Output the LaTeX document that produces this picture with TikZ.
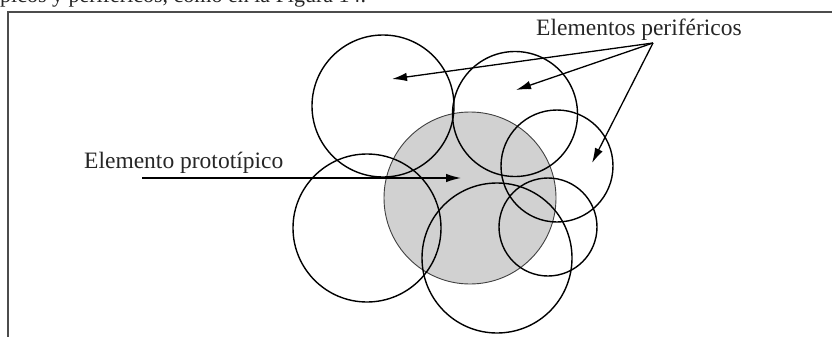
\documentclass[tikz,border=0pt]{standalone}
\usepackage{fontspec}
\setmainfont{Liberation Serif}
\usetikzlibrary{arrows.meta}
\begin{document}
\begin{tikzpicture}[x=1pt,y=-1pt,
  ring/.style={circle,draw=black,line width=1.4pt,inner sep=0pt,minimum size=#1},
  lbl/.style={font=\fontsize{23.5}{26}\selectfont,text=black!85,inner sep=0pt,anchor=base west},
  pointer/.style={line width=1.3pt,-{Latex[length=15pt,width=8.5pt]}},
  frame/.style={line width=1.4pt,draw=black!70}]
\useasboundingbox (0,0) rectangle (832,337);
\clip (0,0) rectangle (832,337);
% cut-off line of text above the frame
\node[lbl,font=\fontsize{22}{24}\selectfont] (toptext) at (0,3) {picos y periféricos, como en la Figura 14.};
% frame
\draw[frame] (832,12) -- (8,12) -- (8,337);
% prototype element
\node[circle,fill=black!18,draw=black!75,line width=0.9pt,inner sep=0pt,minimum size=172pt] (proto) at (470,198) {};
% peripheral elements
\node[ring=142pt] (c1) at (383,106) {};
\node[ring=125pt] (c2) at (515,114) {};
\node[ring=112pt] (c3) at (557,166) {};
\node[ring=148pt] (c5) at (367,228) {};
\node[ring=150pt] (c6) at (497,258) {};
\node[ring=98pt]  (c7) at (548,227) {};
% labels
\node[lbl] (perif) at (536,36) {Elementos periféricos};
\node[lbl] (prot) at (84,168) {Elemento prototípico};
% arrows
\coordinate (hub) at (653,43);
\coordinate (t1) at (392,79);
\coordinate (t2) at (516,90);
\coordinate (t3) at (592,163);
\coordinate (s0) at (142,178);
\coordinate (t0) at (461,178);
\draw[pointer] (hub) -- (t1);
\draw[pointer] (hub) -- (t2);
\draw[pointer] (hub) -- (t3);
\draw[pointer] (s0) -- (t0);
\end{tikzpicture}
\end{document}
